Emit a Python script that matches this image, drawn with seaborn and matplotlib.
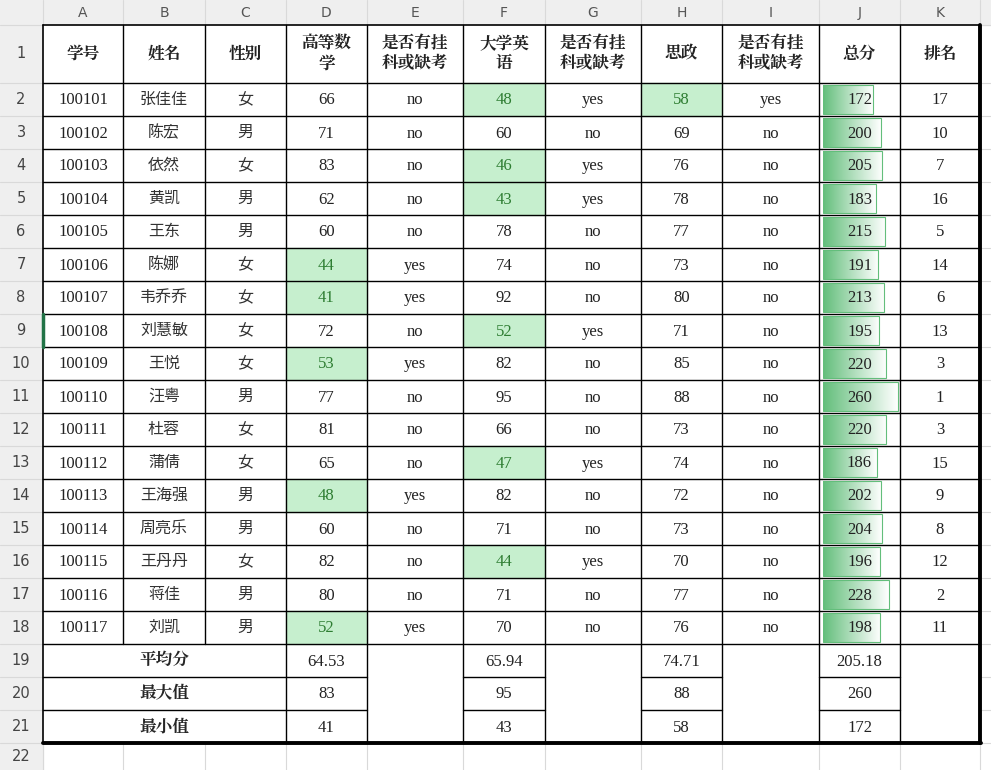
import numpy as np
import pandas as pd
import matplotlib
matplotlib.use("Agg")
import matplotlib.pyplot as plt
from matplotlib import font_manager as fm
import seaborn as sns
from matplotlib.colors import LinearSegmentedColormap

ids = [f"1001{i:02d}" for i in range(1, 18)]
names = ["张佳佳","陈宏","依然","黄凯","王东","陈娜","韦乔乔","刘慧敏","王悦","汪粤","杜蓉","蒲倩","王海强","周亮乐","王丹丹","蒋佳","刘凯"]
genders = ["女","男","女","男","男","女","女","女","女","男","女","女","男","男","女","男","男"]
math = [66,71,83,62,60,44,41,72,53,77,81,65,48,60,82,80,52]
eng = [48,60,46,43,78,74,92,52,82,95,66,47,82,71,44,71,70]
pol = [58,69,76,78,77,73,80,71,85,88,73,74,72,73,70,77,76]
total = [172,200,205,183,215,191,213,195,220,260,220,186,202,204,196,228,198]
rank = [17,10,7,16,5,14,6,13,3,1,3,15,9,8,12,2,11]
headers = ["学号","姓名","性别","高等数\n学","是否有挂\n科或缺考","大学英\n语","是否有挂\n科或缺考","思政","是否有挂\n科或缺考","总分","排名"]
col_letters = list("ABCDEFGHIJK")
stat_labels = ["平均分","最大值","最小值"]
stat_math = ["64.53","83","41"]
stat_eng = ["65.94","95","43"]
stat_pol = ["74.71","88","58"]
stat_total = ["205.18","260","172"]

sns.set_theme(style="white")
# find a CJK font file
cjk_prop = None
cands = [f for f in fm.findSystemFonts() if "CJK" in f or "cjk" in f.lower()]
pref = [f for f in cands if "Regular" in f] or cands
bold = [f for f in cands if "Bold" in f] or pref
CJK_R = fm.FontProperties(fname=pref[0]) if pref else fm.FontProperties(family="Noto Sans CJK SC")
CJK_B = fm.FontProperties(fname=bold[0]) if bold else fm.FontProperties(family="Noto Sans CJK SC", weight="bold")
LAT = "Liberation Serif"
W, H = 991, 770
fig = plt.figure(figsize=(W/100, H/100), dpi=100)
ax = fig.add_axes([0, 0, 1, 1])
ax.set_xlim(0, W); ax.set_ylim(H, 0); ax.axis("off")

xs = [0, 43, 123, 205, 286, 367, 463, 545, 641, 722, 819, 900, 980, 991]
ys = [0, 25, 83] + [83 + 33*i for i in range(1, 21)] + [770]
GRID = "#d9d9d9"; HDR = "#efefef"

ax.add_patch(plt.Rectangle((0, 0), W, 25, color=HDR, zorder=0))
ax.add_patch(plt.Rectangle((0, 0), 43, H, color=HDR, zorder=0))
for x in xs[1:-1]:
    ax.plot([x, x], [0, H], color=GRID, lw=0.8, zorder=1)
for y in ys[1:-1]:
    ax.plot([0, W], [y, y], color=GRID, lw=0.8, zorder=1)
for i, L in enumerate(col_letters):
    ax.text((xs[i+1]+xs[i+2])/2, 13, L, ha="center", va="center", fontsize=10, color="#555", family="DejaVu Sans")
for r in range(1, 23):
    ax.text(21, (ys[r]+ys[r+1])/2, str(r), ha="center", va="center", fontsize=10.5, color="#444", family="DejaVu Sans")
ax.plot([43, 43], [ys[9], ys[10]], color="#217346", lw=2.5, zorder=7)

def cell(c, r):
    return xs[c+1], xs[c+2], ys[r], ys[r+1]

def txt(c, r, s, bold=False, color="#222", cjk=False, size=12):
    x0, x1, y0, y1 = cell(c, r)
    if cjk:
        ax.text((x0+x1)/2, (y0+y1)/2, s, ha="center", va="center", fontsize=size,
                color=color, fontproperties=(CJK_B if bold else CJK_R), zorder=5, linespacing=1.2)
    else:
        ax.text((x0+x1)/2, (y0+y1)/2+1, s, ha="center", va="center", fontsize=size,
                color=color, family=LAT, zorder=5)

L, R, T, B = 43, 980, 25, 743
ax.add_patch(plt.Rectangle((L, T), 937, B-T, color="white", zorder=1.5))

GREEN_BG = "#c6efce"; GREEN_TX = "#2e7d32"
for c, h in enumerate(headers):
    txt(c, 1, h, bold=True, cjk=True, size=12)
low_cols = {3: math, 5: eng, 7: pol}
for i in range(17):
    r = i + 2
    txt(0, r, ids[i]); txt(1, r, names[i], cjk=True, color="#333", size=11.5)
    txt(2, r, genders[i], cjk=True, color="#333", size=11.5)
    for c, arr in low_cols.items():
        v = arr[i]
        hl = v < 60
        if hl:
            x0, x1, y0, y1 = cell(c, r)
            ax.add_patch(plt.Rectangle((x0, y0), x1-x0, y1-y0, color=GREEN_BG, zorder=2))
        txt(c, r, str(v), color=GREEN_TX if hl else "#222")
        txt(c+1, r, "yes" if hl else "no")
    txt(10, r, str(rank[i]))

for k in range(3):
    r = 19 + k
    ax.text((xs[1]+xs[4])/2, ys[r]+16.5, stat_labels[k], ha="center", va="center", fontsize=12,
            fontproperties=CJK_B, zorder=5)
    txt(3, r, stat_math[k]); txt(5, r, stat_eng[k]); txt(7, r, stat_pol[k]); txt(9, r, stat_total[k])

for x in xs[2:-2]:
    ax.plot([x, x], [T, 644], color="black", lw=1, zorder=6)
for x in [286, 367, 463, 545, 641, 722, 819, 900]:
    ax.plot([x, x], [644, B], color="black", lw=1, zorder=6)
for y in ys[2:20]:
    ax.plot([L, R], [y, y], color="black", lw=1, zorder=6)
for y in ys[20:22]:
    for a, b in [(43, 367), (463, 545), (641, 722), (819, 900)]:
        ax.plot([a, b], [y, y], color="black", lw=1, zorder=6)
ax.plot([L, R], [T, T], color="black", lw=1.2, zorder=6)
ax.plot([L, L], [T, B], color="black", lw=1.2, zorder=6)
ax.plot([R, R], [T, B], color="black", lw=2.8, zorder=6)
ax.plot([L, R+1], [B, B], color="black", lw=2.8, zorder=6)

bx0 = 823; bw = 77
bax = fig.add_axes([bx0/W, 1-644/H, bw/W, (644-83)/H])
bax.patch.set_alpha(0)
df = pd.DataFrame({"id": ids, "total": total})
sns.barplot(data=df, x="total", y="id", orient="h", ax=bax, width=0.85, color="#63be7b",
            edgecolor="#63be7b", linewidth=0.8)
cmap = LinearSegmentedColormap.from_list("g", ["#63be7b", "#ffffff"])
grad = np.linspace(0, 1, 256).reshape(1, -1)
for p in bax.patches:
    x, y = p.get_x(), p.get_y(); w, h = p.get_width(), p.get_height()
    p.set_facecolor("none")
    im = bax.imshow(grad, extent=[x, x+w, y+h, y], cmap=cmap, aspect="auto", zorder=0.5)
    im.set_clip_path(p)
bax.set_xlim(0, 267); bax.set_ylim(16.5, -0.5); bax.axis("off")
for i in range(17):
    x0, x1, y0, y1 = cell(9, i+2)
    fig.text((x0+x1)/2/W, 1-((y0+y1)/2+1)/H, str(total[i]), ha="center", va="center",
             fontsize=12, family=LAT, color="#222", zorder=10)

fig.savefig("out.png", dpi=100)
